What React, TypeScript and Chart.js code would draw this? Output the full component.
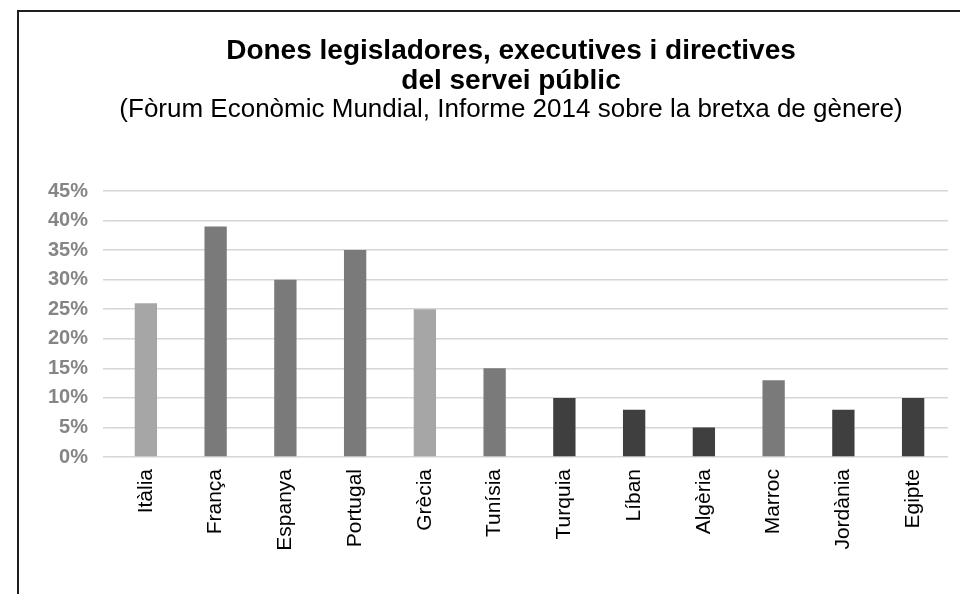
import React, { useEffect, useRef } from "react";
import { Chart, registerables } from "chart.js";

Chart.register(...registerables);

const categories = ["Itàlia", "França", "Espanya", "Portugal", "Grècia", "Tunísia", "Turquia", "Líban", "Algèria", "Marroc", "Jordània", "Egipte"];
const values = [26, 39, 30, 35, 25, 15, 10, 8, 5, 13, 8, 10];
const barColors = ["#a6a6a6", "#7a7a7a", "#7a7a7a", "#7a7a7a", "#a6a6a6", "#7a7a7a", "#3f3f3f", "#3f3f3f", "#3f3f3f", "#7a7a7a", "#3f3f3f", "#3f3f3f"];
const titleLines = ["Dones legisladores, executives i directives", "del servei públic"];
const subtitleText = "(Fòrum Econòmic Mundial, Informe 2014 sobre la bretxa de gènere)";
const yTicks = { min: 0, max: 45, step: 5 };

const FONT = "'Liberation Sans', Arial, sans-serif";

const headingPlugin = {
  id: "heading",
  afterDraw(chart: any) {
    const ctx = chart.ctx;
    ctx.save();
    ctx.fillStyle = "#000";
    ctx.textAlign = "center";
    ctx.textBaseline = "alphabetic";
    const cx = 511;
    ctx.font = `bold 28px ${FONT}`;
    ctx.fillText(titleLines[0], cx, 59);
    ctx.fillText(titleLines[1], cx, 89);
    ctx.font = `26px ${FONT}`;
    ctx.fillText(subtitleText, cx, 117);
    ctx.restore();
  },
};

export default function App() {
  const ref = useRef<HTMLCanvasElement | null>(null);
  useEffect(() => {
    if (!ref.current) return;
    const chart = new Chart(ref.current, {
      type: "bar",
      data: {
        labels: categories,
        datasets: [
          {
            data: values,
            backgroundColor: barColors,
            barPercentage: 0.32,
            categoryPercentage: 1,
          },
        ],
      },
      plugins: [headingPlugin],
      options: {
        animation: false,
        responsive: false,
        layout: { padding: { top: 191, right: 12, left: 0, bottom: 0 } },
        plugins: {
          legend: { display: false },
          tooltip: { enabled: false },
          title: { display: false },
        },
        scales: {
          x: {
            grid: { display: false },
            border: { display: false },
            ticks: {
              color: "#000",
              minRotation: 90,
              maxRotation: 90,
              padding: 4,
              autoSkip: false,
              font: { family: FONT, size: 21 },
            },
            afterFit: (scale: any) => {
              scale.height = 137;
            },
          },
          y: {
            min: yTicks.min,
            max: yTicks.max,
            border: { display: false },
            grid: { color: "#d6d6d6", lineWidth: 1.5, drawTicks: true, tickLength: 8 },
            ticks: {
              stepSize: yTicks.step,
              padding: 15,
              color: "#858585",
              font: { family: FONT, size: 20, weight: "bold" },
              callback: (v: any) => v + "%",
            },
            afterFit: (scale: any) => {
              scale.width = 111;
            },
          },
        },
      },
    });
    return () => chart.destroy();
  }, []);
  return (
    <div style={{ position: "absolute", left: 0, top: 0, width: 960, height: 594, overflow: "hidden", background: "#fff" }}>
      <div
        style={{
          position: "absolute",
          left: 17,
          top: 10,
          width: 1000,
          height: 700,
          borderLeft: "2px solid #1e1e1e",
          borderTop: "2px solid #1e1e1e",
        }}
      />
      <canvas ref={ref} width={960} height={594} style={{ position: "absolute", left: 0, top: 0 }} />
    </div>
  );
}
